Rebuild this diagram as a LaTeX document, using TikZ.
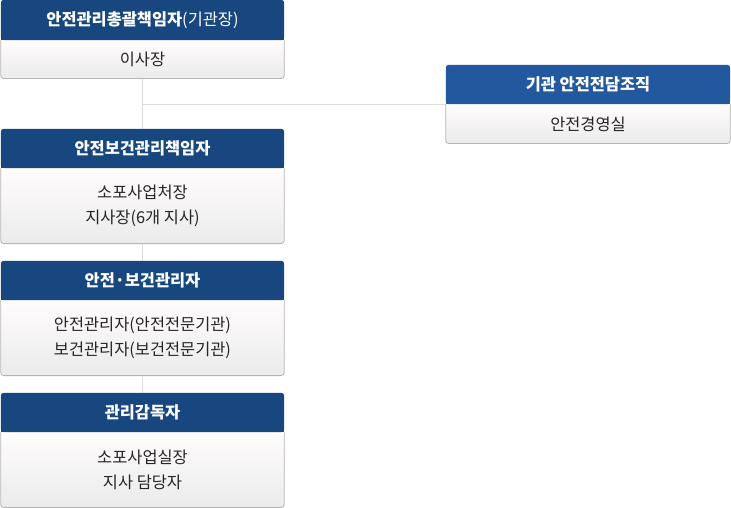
\documentclass[tikz,border=0pt]{standalone}
\usepackage{fontspec}
\setmainfont{Noto Sans CJK KR}
\usetikzlibrary{positioning, backgrounds}

\definecolor{navy}{HTML}{17477E}
\definecolor{hdright}{HTML}{22589E}
\definecolor{bodytop}{HTML}{FFFCFC}
\definecolor{bodybot}{HTML}{EBEBEB}
\definecolor{boxline}{HTML}{B4B4B4}
\definecolor{linegray}{HTML}{DDDDDD}

\tikzset{
  head/.style={minimum width=283pt, minimum height=39pt, inner sep=0pt, text=white,
    font=\fontsize{16.4}{19}\selectfont\bfseries},
  body/.style={minimum width=283pt, inner sep=0pt, align=center, text=black!85,
    font=\fontsize{16.4}{25}\selectfont},
  link/.style={draw=linegray, line width=1pt},
}

\begin{document}
\begin{tikzpicture}[x=1pt, y=-1pt]
    \useasboundingbox (0,0) rectangle (731,508);
    % left column
    \node[head, minimum height=40pt] (h1) at (142.5,20) {안전관리총괄책임자\mdseries(기관장)};
    \node[body, minimum height=38pt, below=0pt of h1] (b1) {이사장};
    \node[head] (h2) at (142.5,148.5) {안전보건관리책임자};
    \node[body, minimum height=75pt, below=0pt of h2] (b2) {소포사업처장\\지사장(6개 지사)};
    \node[head] (h3) at (142.5,280.5) {안전·보건관리자};
    \node[body, minimum height=75pt, below=0pt of h3] (b3) {안전관리자(안전전문기관)\\보건관리자(보건전문기관)};
    \node[head] (h4) at (142.5,412.5) {관리감독자};
    \node[body, minimum height=75pt, below=0pt of h4] (b4) {소포사업실장\\지사 담당자};
    % right box
    \node[head, minimum width=284pt] (h5) at (588,84.5) {기관 안전전담조직};
    \node[body, minimum width=284pt, minimum height=39pt, below=0pt of h5] (b5) {안전경영실};
    \coordinate (jn) at (b1.south |- 0,105);

    \begin{scope}[on background layer]
        \draw[link] (b1.south) -- (h2.north) (b2.south) -- (h3.north) (b3.south) -- (h4.north);
        \draw[link] (jn) -- (jn -| h5.west);
        \foreach \n/\c in {1/navy, 2/navy, 3/navy, 4/navy, 5/hdright} {
            \shade[top color=bodytop, bottom color=bodybot, rounded corners=3pt]
                (h\n.south west) -- (b\n.south west) -- (b\n.south east) -- (h\n.south east) -- cycle;
            \draw[boxline, line width=0.8pt, rounded corners=3pt]
                (h\n.south west) -- (b\n.south west) -- (b\n.south east) -- (h\n.south east);
            \fill[\c, rounded corners=3pt] (h\n.south west) rectangle (h\n.north east);
            \fill[\c] (h\n.south west) rectangle ([yshift=5pt]h\n.south east);
        }
    \end{scope}
\end{tikzpicture}
\end{document}
